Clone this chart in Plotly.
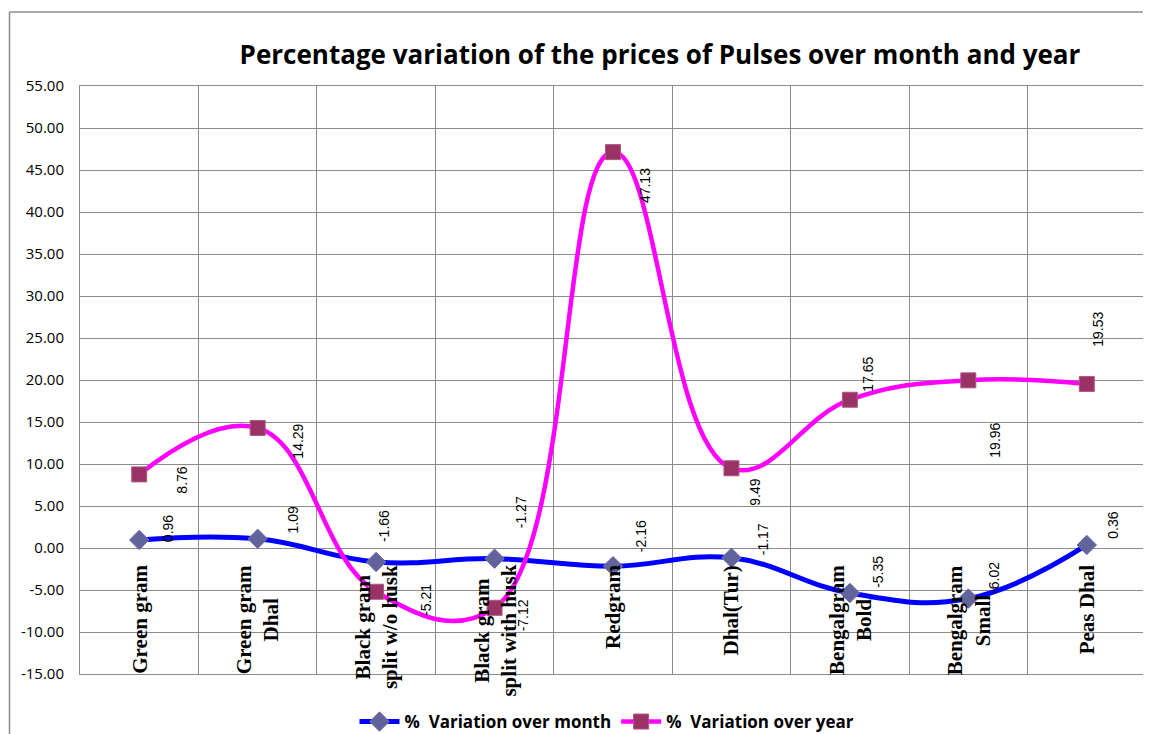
import plotly.graph_objects as go

categories = ["Green gram", "Green gram<br>Dhal", "Black gram<br>split w/o husk",
              "Black gram<br>split with husk", "Redgram", "Dhal(Tur)",
              "Bengalgram<br>Bold", "Bengalgram<br>Small", "Peas Dhal"]
month_values = [0.96, 1.09, -1.66, -1.27, -2.16, -1.17, -5.35, -6.02, 0.36]
year_values = [8.76, 14.29, -5.21, -7.12, 47.13, 9.49, 17.65, 19.96, 19.53]
y_ticks = [-15, -10, -5, 0, 5, 10, 15, 20, 25, 30, 35, 40, 45, 50, 55]

# label offsets in pixels (dx right, dy down) — layout only
month_off = [(29, -11), (35, -19), (8, -36), (26, -46), (28, -30), (31, -19), (28, -21), (25, -21), (26, -20)]
year_off = [(43, 6), (40, 13), (50, 8), (28, 8), (32, 34), (24, 24), (18, -26), (27, 60), (11, -55)]

xs = list(range(len(categories)))

# page body has an 8px margin; figure coordinates = page coordinates - 8
OFF = 8
W, H = 1151 - OFF, 734 - OFF
L, R, T, B = 80 - OFF, 5, 86 - OFF, 60
PW, PH = W - L - R, H - T - B

fig = go.Figure()
fig.add_trace(go.Scatter(
    x=xs, y=month_values, mode="lines+markers", name="%  Variation over month",
    line=dict(color="#0000FF", width=5, shape="spline", smoothing=1.2),
    marker=dict(symbol="diamond", size=15, color="#63639C", line=dict(color="#7070A8", width=1)),
))
fig.add_trace(go.Scatter(
    x=xs, y=year_values, mode="lines+markers", name="%  Variation over year",
    line=dict(color="#FF00FF", width=4.5, shape="spline", smoothing=1.2),
    marker=dict(symbol="square", size=15, color="#993366", line=dict(color="#B0577F", width=1)),
))

annotations = []
for i, v in enumerate(month_values):
    dx, dy = month_off[i]
    annotations.append(dict(x=i, y=v, xref="x", yref="y", text=f"{v:.2f}", showarrow=False,
                            textangle=-90, xshift=dx, yshift=-dy,
                            font=dict(family="Liberation Sans", size=14, color="#000")))
for i, v in enumerate(year_values):
    dx, dy = year_off[i]
    annotations.append(dict(x=i, y=v, xref="x", yref="y", text=f"{v:.2f}", showarrow=False,
                            textangle=-90, xshift=dx, yshift=-dy,
                            font=dict(family="Liberation Sans", size=14, color="#000")))
for i, c in enumerate(categories):
    annotations.append(dict(x=i, y=0, xref="x", yref="y", text=f"<b>{c}</b>", showarrow=False,
                            textangle=-90, yanchor="top", xanchor="center", align="center",
                            yshift=-15,
                            font=dict(family="Liberation Serif", size=21, color="#000")))

fig.update_layout(
    width=W, height=H,
    margin=dict(l=L, r=R, t=T, b=B, autoexpand=False),
    paper_bgcolor="white", plot_bgcolor="white",
    title=dict(text="<b>Percentage variation of the prices of Pulses over month and year</b>",
               x=(660 - OFF) / W, xanchor="center", y=1 - (55 - OFF) / H, yanchor="middle",
               font=dict(family="Open Sans", size=26, color="#000")),
    xaxis=dict(range=[-0.5, 8.5], tickmode="linear", tick0=0.5, dtick=1,
               showticklabels=False, showgrid=True, gridcolor="#8C8C8C", gridwidth=1,
               zeroline=False, showline=True, linecolor="#8C8C8C", mirror=True, ticks="",
               automargin=False),
    yaxis=dict(range=[-15, 55], tickvals=y_ticks, ticktext=[f"{t:.2f}" for t in y_ticks],
               showgrid=True, gridcolor="#8C8C8C", gridwidth=1, zeroline=False,
               showline=True, linecolor="#8C8C8C", mirror=True, ticks="",
               ticklabelstandoff=12, automargin=False,
               tickfont=dict(family="Open Sans", size=15, color="#000")),
    legend=dict(orientation="h", x=(607 - OFF) / W, xanchor="center", xref="container",
                y=1 - (722 - OFF) / H, yanchor="middle", yref="container",
                font=dict(family="Open Sans", size=17, color="#000", weight="bold"),
                itemwidth=40, tracegroupgap=0),
    annotations=annotations,
    showlegend=True,
)
bx = (9.5 - 80) / PW
by = (674 - 12) / PH
fig.add_shape(type="line", xref="paper", yref="paper", x0=bx, x1=bx,
              y0=by, y1=-0.3, line=dict(color="#8C8C8C", width=1.5))
fig.add_shape(type="line", xref="paper", yref="paper", x0=bx, x1=1.02,
              y0=by, y1=by, line=dict(color="#8C8C8C", width=1.5))

fig.write_html("out.html")
